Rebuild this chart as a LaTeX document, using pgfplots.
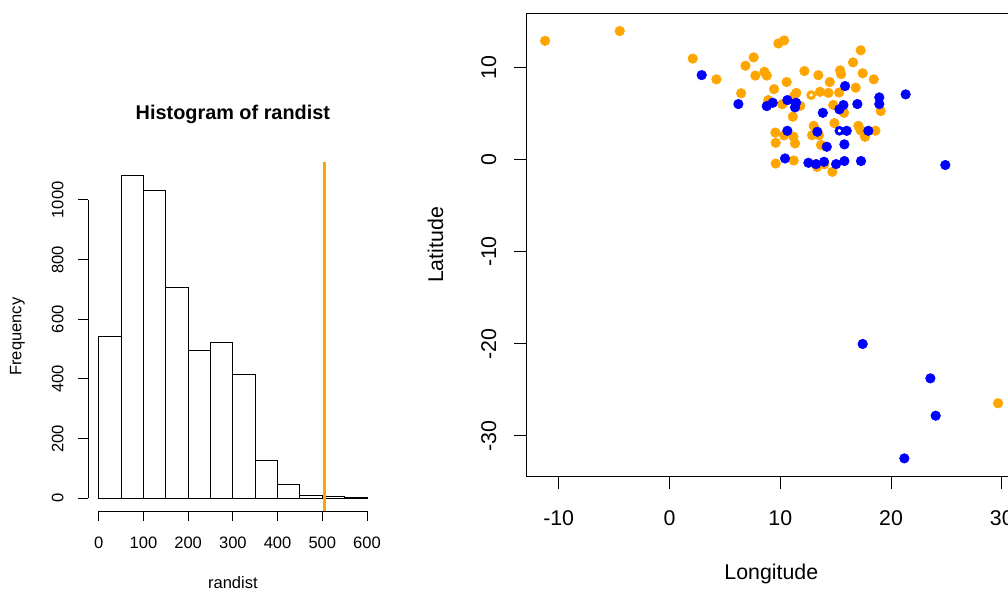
\documentclass[border=0pt]{standalone}
\usepackage{pgfplots}
\pgfplotsset{compat=1.18}
\usepackage{fontspec}
\setmainfont{Liberation Sans}
\definecolor{rorange}{HTML}{FFA500}
\definecolor{rblue}{HTML}{0000FF}

\begin{document}
\begin{tikzpicture}
% ---------------- Histogram ----------------
\begin{axis}[
  at={(66pt,-121.7pt)}, anchor=north west, scale only axis,
  width=217.3pt, height=261.7pt,
  xmin=-24, xmax=624, ymin=-43.3, ymax=1126.3,
  axis line style={draw=none},
  axis x line*=bottom, axis y line*=left,
  xtick={0,100,...,600}, ytick={0,200,...,1000},
  tick align=outside, major tick length=7.5pt,
  tick style={black, line width=0.75pt},
  /pgf/number format/assume math mode=true,
  /pgf/number format/1000 sep={},
  ticklabel style={font=\fontsize{12.4}{14}\selectfont, text=black},
  xticklabel style={anchor=base},
  yticklabel style={rotate=90, anchor=base},
  xticklabel shift=20.3pt, yticklabel shift=11pt,
  title={\bfseries Histogram of randist},
  title style={at={(axis description cs:0.5,1.0997)}, anchor=base, font=\fontsize{14.9}{17}\selectfont},
  xlabel={randist},
  xlabel style={at={(axis description cs:0.5,-0.2201)}, anchor=base, font=\fontsize{12.4}{14}\selectfont},
  ylabel={Frequency},
  ylabel style={at={(axis description cs:-0.2296,0.5)}, anchor=base, font=\fontsize{12.4}{14}\selectfont},
  clip=false,
]
\addplot[ybar interval, draw=black, fill=white, line width=0.8pt] coordinates {
 (0,541) (50,1083) (100,1032) (150,705) (200,496) (250,523) (300,415)
 (350,126) (400,45) (450,9) (500,6) (550,2) (600,2)
};
\addplot[rorange, line width=2.2pt] coordinates {(504.5,-43.3) (504.5,1126.3)};
\draw[black, line width=0.75pt] (axis cs:-24,0) -- (axis cs:-24,1000);
\draw[black, line width=0.75pt] (axis cs:0,-43.3) -- (axis cs:600,-43.3);
\end{axis}

% ---------------- Scatter ----------------
\begin{axis}[
  at={(395pt,-10pt)}, anchor=north west, scale only axis,
  width=367pt, height=347.4pt,
  xmin=-12.89, xmax=31.28, ymin=-34.40, ymax=15.84,
  xtick={-10,0,...,30}, ytick={-30,-20,...,10},
  tick pos=left, tick align=outside, major tick length=9.4pt,
  axis line style={line width=0.8pt},
  tick style={black, line width=0.75pt},
  /pgf/number format/assume math mode=true,
  ticklabel style={font=\fontsize{16}{19}\selectfont, text=black},
  xticklabel style={anchor=base},
  yticklabel style={rotate=90, anchor=base},
  xticklabel shift=27pt, yticklabel shift=13.6pt,
  xlabel={Longitude},
  xlabel style={at={(axis description cs:0.5,-0.2219)}, anchor=base, font=\fontsize{16}{19}\selectfont},
  ylabel={Latitude},
  ylabel style={at={(axis description cs:-0.1705,0.5)}, anchor=base, font=\fontsize{16}{19}\selectfont},
]
\addplot[only marks, mark=*, mark size=3.6pt, color=rorange, mark options={draw=rorange, fill=rorange}] coordinates {
 (-11.23,12.86) (-4.49,13.92) (2.10,10.93) (4.24,8.68) (6.47,7.17) (6.86,10.16)
 (7.60,11.06) (7.75,9.09) (8.57,9.50) (8.78,9.09) (9.83,12.57) (10.35,12.90)
 (9.44,7.62) (10.58,8.39) (12.18,9.58) (13.44,9.13) (14.47,8.39) (15.40,9.66)
 (15.49,9.25) (16.57,10.52) (17.26,11.83) (17.44,9.34) (18.44,8.68) (16.81,7.78)
 (11.45,7.21) (11.24,6.87) (13.59,7.33) (14.35,7.21) (15.31,7.25) (8.92,6.43)
 (10.18,5.98) (11.81,5.81) (14.78,5.90) (15.76,5.05) (19.07,5.24) (11.13,4.63)
 (14.89,3.93) (13.02,3.64) (17.05,3.64) (17.26,3.15) (17.65,2.45) (18.59,3.11)
 (9.56,2.91) (10.35,2.60) (11.19,2.46) (11.33,1.73) (12.87,2.62) (13.50,2.62)
 (9.59,1.80) (13.68,1.56) (9.59,-0.45) (11.21,-0.12) (13.32,-0.82)
 (13.98,-0.53) (14.70,-1.35) (29.66,-26.45)
};
\addplot[only marks, mark=*, mark size=2.5pt, color=rorange, mark options={draw=rorange, fill=white, line width=2.2pt}] coordinates {
 (12.79,6.97)
};
\addplot[only marks, mark=*, mark size=3.6pt, color=rblue, mark options={draw=rblue, fill=rblue}] coordinates {
 (2.91,9.14) (6.22,6.00) (8.78,5.78) (9.32,6.14) (10.64,6.43) (11.43,6.14)
 (11.33,5.64) (13.84,5.05) (15.34,5.42) (15.70,5.89) (15.85,7.95) (16.96,6.00)
 (18.94,6.72) (18.94,6.00) (21.32,7.05) (10.64,3.10) (13.35,3.00) (16.00,3.10)
 (17.95,3.10) (14.20,1.37) (15.79,1.63) (10.43,0.10) (12.54,-0.37) (13.23,-0.51)
 (13.95,-0.26) (15.04,-0.51) (15.79,-0.18) (17.29,-0.18) (24.90,-0.61)
 (17.44,-20.02) (23.55,-23.75) (24.03,-27.80) (21.20,-32.43)
};
\addplot[only marks, mark=*, mark size=2.5pt, color=rblue, mark options={draw=rblue, fill=white, line width=2.2pt}] coordinates {
 (15.34,3.10)
};
\end{axis}
\pgfresetboundingbox
\useasboundingbox (0,0) rectangle (756pt,-444.75pt);
\end{tikzpicture}
\end{document}
